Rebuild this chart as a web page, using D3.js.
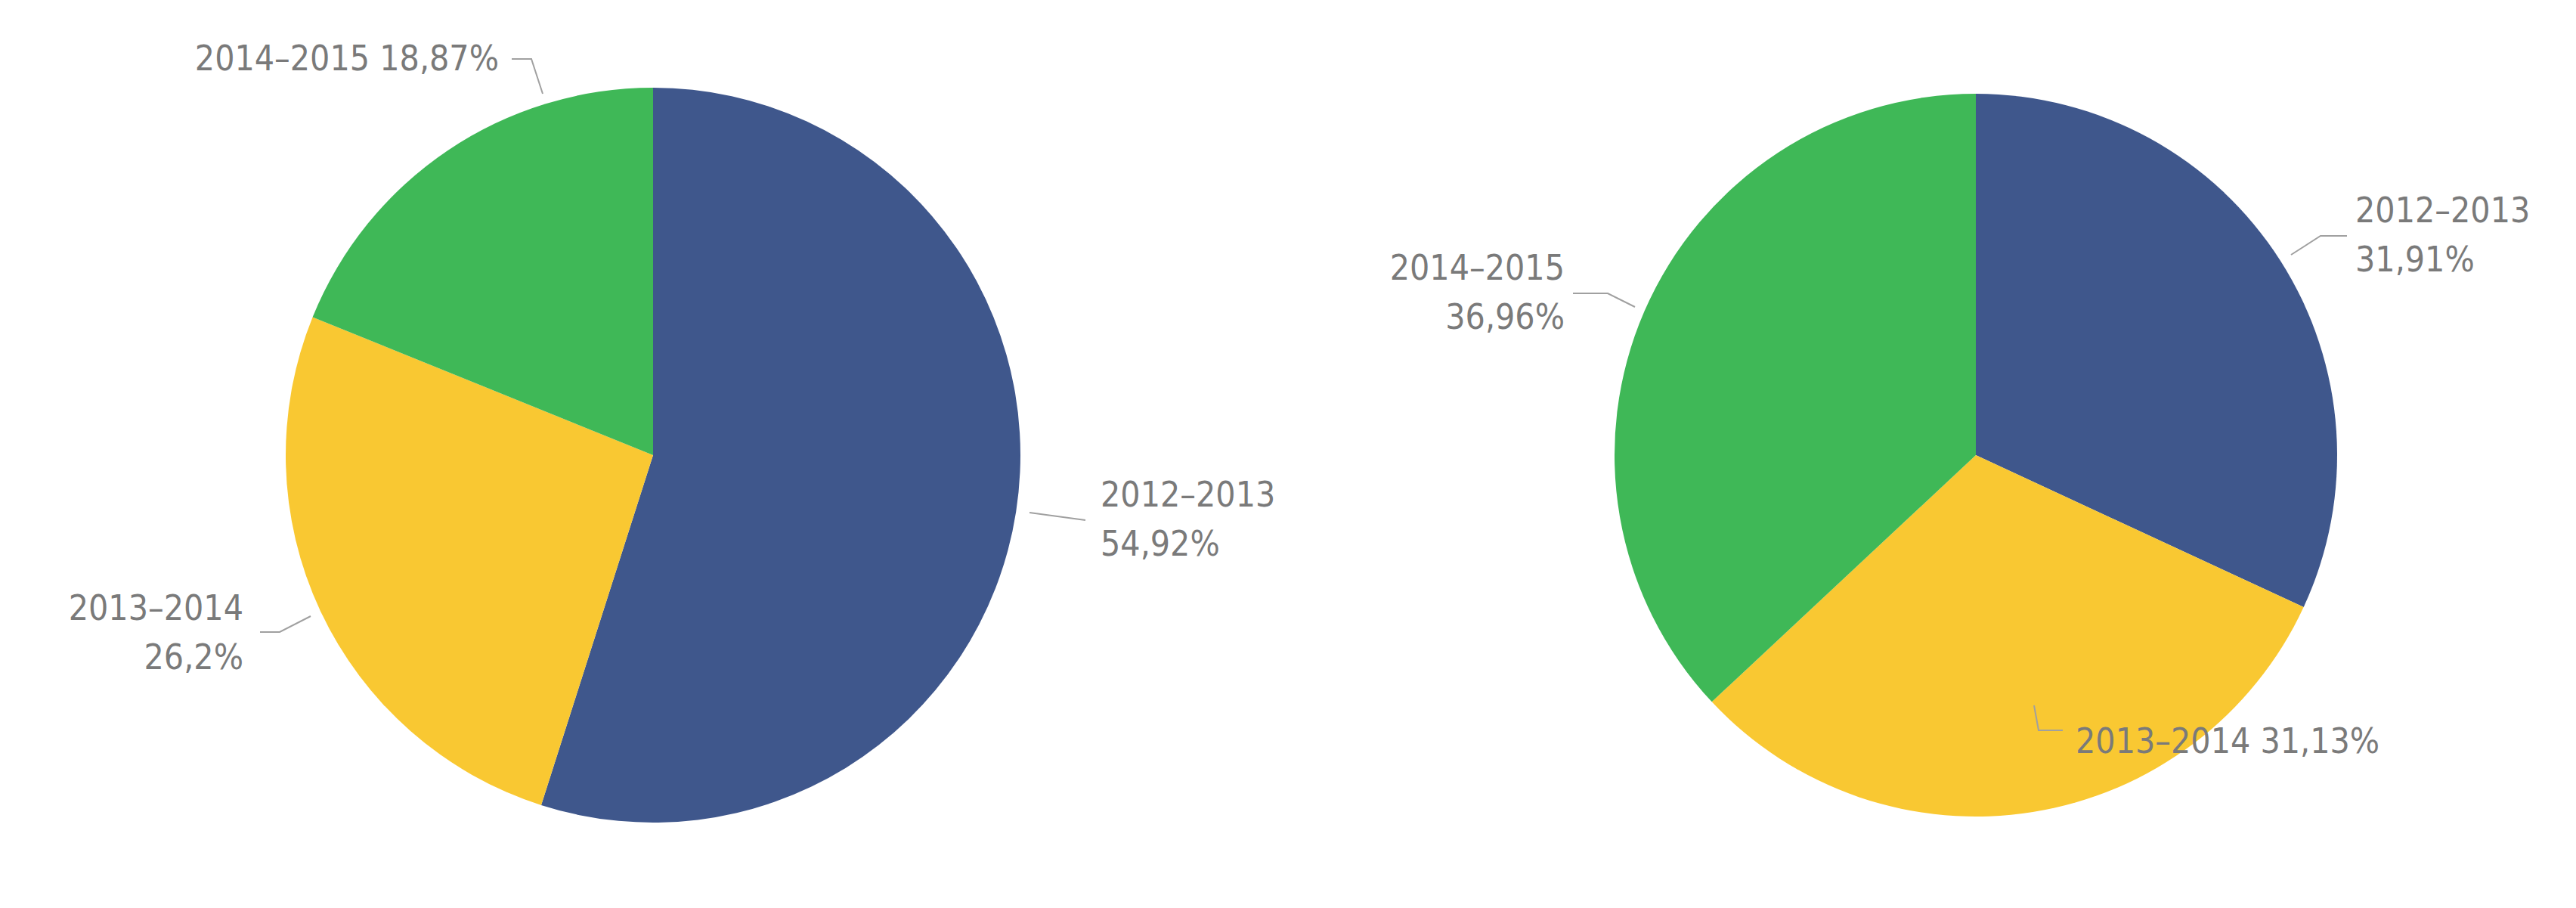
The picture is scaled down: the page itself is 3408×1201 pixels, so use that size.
<!DOCTYPE html>
<html>
<head>
<meta charset="utf-8">
<script src="https://cdn.jsdelivr.net/npm/d3@7"></script>
<style>
body { margin: 0; background: #fff; }
text { font-family: "Liberation Sans Narrow", "DejaVu Sans Condensed", "Roboto", sans-serif; fill: #7a7a7a; font-size: 46px; }
</style>
</head>
<body>
<svg id="chart" width="3408" height="1201"></svg>
<script>
// data
var periods = ["2012–2013", "2013–2014", "2014–2015"];
var leftValues = [54.92, 26.2, 18.87];
var rightValues = [31.91, 31.13, 36.96];
var leftLabels = ["54,92%", "26,2%", "18,87%"];
var rightLabels = ["31,91%", "31,13%", "36,96%"];
var colors = ["#3f578c", "#f9c832", "#3fb857"];

// label placement (annotation layout only)
var leftLayout = [
	{ lines: 2, x: 1456, y: 670, anchor: "start", leader: [[1362, 678], [1436, 688]] },
	{ lines: 2, x: 322, y: 820, anchor: "end", leader: [[411, 815], [370, 836], [344, 836]] },
	{ lines: 1, x: 660, y: 93, anchor: "end", leader: [[718, 124], [703, 78], [677, 78]] }
];
var rightLayout = [
	{ lines: 2, x: 3116, y: 294, anchor: "start", leader: [[3031, 337], [3070, 312], [3105, 312]] },
	{ lines: 1, x: 2746, y: 996, anchor: "start", leader: [[2691, 933], [2697, 966], [2729, 966]] },
	{ lines: 2, x: 2070, y: 370, anchor: "end", leader: [[2163, 406], [2127, 388], [2081, 388]] }
];

var svg = d3.select("#chart");
var color = d3.scaleOrdinal().domain(periods).range(colors);

function drawPie (cx, cy, r, values, labels, layout) {
	var g = svg.append("g").attr("transform", "translate(" + cx + "," + cy + ")");
	var pie = d3.pie().sort(null).value(function (d) { return d.value; });
	var arc = d3.arc().innerRadius(0).outerRadius(r);
	var data = values.map(function (v, i) { return { name: periods[i], value: v, label: labels[i] }; });

	g.selectAll("path.slice")
		.data(pie(data))
		.enter()
		.append("path")
		.attr("class", "slice")
		.attr("d", arc)
		.attr("fill", function (d) { return color(d.data.name); });

	data.forEach(function (d, i) {
		var l = layout[i];
		svg.append("polyline")
			.attr("points", l.leader.map(function (p) { return p.join(","); }).join(" "))
			.attr("fill", "none")
			.attr("stroke", "#a0a0a0")
			.attr("stroke-width", 2);
		var t = svg.append("text")
			.attr("x", l.x)
			.attr("y", l.y)
			.attr("text-anchor", l.anchor);
		if (l.lines === 1) {
			t.text(d.name + " " + d.label);
		} else {
			t.append("tspan").attr("x", l.x).text(d.name);
			t.append("tspan").attr("x", l.x).attr("dy", 65).text(d.label);
		}
	});
}

drawPie(864, 602, 486, leftValues, leftLabels, leftLayout);
drawPie(2614, 602, 478, rightValues, rightLabels, rightLayout);
</script>
</body>
</html>
